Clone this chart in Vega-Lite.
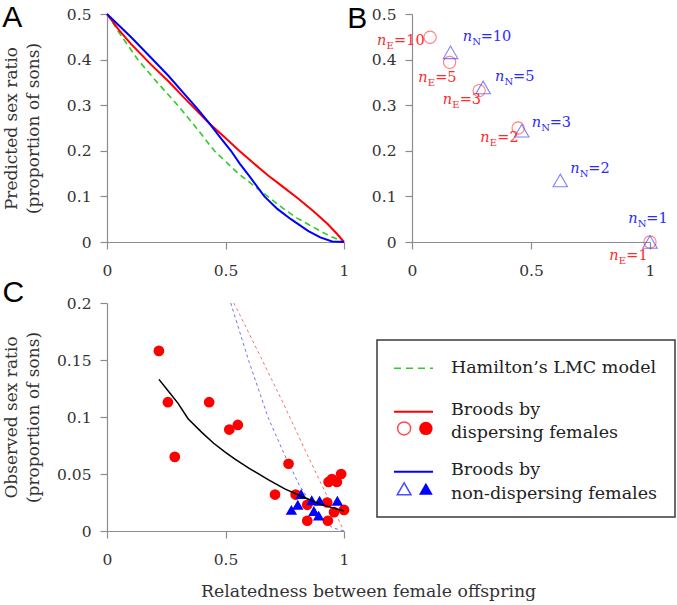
{
  "$schema": "https://vega.github.io/schema/vega-lite/v6.json",
  "background": "white",
  "padding": {"left": 2, "top": 3, "right": 2, "bottom": 4},
  "bounds": "flush",
  "columns": 2,
  "spacing": {"row": 61, "column": 68},
  "title": {"text": "Relatedness between female offspring", "orient": "bottom", "anchor": "start", "frame": "group", "dx": 94, "font": "DejaVu Serif", "fontSize": 17.3, "fontWeight": "normal", "color": "#333", "offset": 15},
  "config": {
    "view": {"stroke": null},
    "axis": {
      "domainColor": "#8c8c8c", "tickColor": "#8c8c8c", "labelColor": "#333", "titleColor": "#333",
      "labelFont": "DejaVu Serif", "labelFontSize": 15.5, "titleFont": "DejaVu Serif", "titleFontSize": 17, "titleFontWeight": "normal",
      "grid": false, "tickSize": 7, "domainWidth": 1.2, "tickWidth": 1.2, "labelFlush": false, "titleLineHeight": 22
    },
    "axisX": {"labelPadding": 14},
    "axisY": {"labelPadding": 9}
  },
  "datasets": {
    "curves": [
      {"series": "Hamilton", "r": 0, "s": 0.5},
      {"series": "Hamilton", "r": 0.05, "s": 0.46},
      {"series": "Hamilton", "r": 0.13, "s": 0.4},
      {"series": "Hamilton", "r": 0.2, "s": 0.357},
      {"series": "Hamilton", "r": 0.298, "s": 0.3},
      {"series": "Hamilton", "r": 0.37, "s": 0.255},
      {"series": "Hamilton", "r": 0.453, "s": 0.2},
      {"series": "Hamilton", "r": 0.55, "s": 0.152},
      {"series": "Hamilton", "r": 0.62, "s": 0.123},
      {"series": "Hamilton", "r": 0.678, "s": 0.1},
      {"series": "Hamilton", "r": 0.74, "s": 0.075},
      {"series": "Hamilton", "r": 0.8, "s": 0.053},
      {"series": "Hamilton", "r": 0.9, "s": 0.024},
      {"series": "Hamilton", "r": 0.95, "s": 0.011},
      {"series": "Hamilton", "r": 1, "s": 0},
      {"series": "Dispersing", "r": 0, "s": 0.5},
      {"series": "Dispersing", "r": 0.05, "s": 0.465},
      {"series": "Dispersing", "r": 0.1, "s": 0.435},
      {"series": "Dispersing", "r": 0.186, "s": 0.389},
      {"series": "Dispersing", "r": 0.26, "s": 0.352},
      {"series": "Dispersing", "r": 0.326, "s": 0.316},
      {"series": "Dispersing", "r": 0.432, "s": 0.26},
      {"series": "Dispersing", "r": 0.5, "s": 0.228},
      {"series": "Dispersing", "r": 0.558, "s": 0.2},
      {"series": "Dispersing", "r": 0.62, "s": 0.172},
      {"series": "Dispersing", "r": 0.68, "s": 0.146},
      {"series": "Dispersing", "r": 0.74, "s": 0.122},
      {"series": "Dispersing", "r": 0.805, "s": 0.096},
      {"series": "Dispersing", "r": 0.87, "s": 0.068},
      {"series": "Dispersing", "r": 0.93, "s": 0.04},
      {"series": "Dispersing", "r": 0.97, "s": 0.018},
      {"series": "Dispersing", "r": 1, "s": 0},
      {"series": "Non-dispersing", "r": 0, "s": 0.5},
      {"series": "Non-dispersing", "r": 0.1, "s": 0.45},
      {"series": "Non-dispersing", "r": 0.186, "s": 0.404},
      {"series": "Non-dispersing", "r": 0.26, "s": 0.364},
      {"series": "Non-dispersing", "r": 0.326, "s": 0.325},
      {"series": "Non-dispersing", "r": 0.38, "s": 0.293},
      {"series": "Non-dispersing", "r": 0.432, "s": 0.26},
      {"series": "Non-dispersing", "r": 0.48, "s": 0.228},
      {"series": "Non-dispersing", "r": 0.523, "s": 0.2},
      {"series": "Non-dispersing", "r": 0.56, "s": 0.172},
      {"series": "Non-dispersing", "r": 0.6, "s": 0.145},
      {"series": "Non-dispersing", "r": 0.664, "s": 0.1},
      {"series": "Non-dispersing", "r": 0.72, "s": 0.072},
      {"series": "Non-dispersing", "r": 0.776, "s": 0.05},
      {"series": "Non-dispersing", "r": 0.85, "s": 0.024},
      {"series": "Non-dispersing", "r": 0.9, "s": 0.01},
      {"series": "Non-dispersing", "r": 0.95, "s": 0.001},
      {"series": "Non-dispersing", "r": 1, "s": 0}
    ],
    "cdash": [
      {"series": "Dispersing", "r": 0.535, "s": 0.2},
      {"series": "Dispersing", "r": 0.556, "s": 0.1915},
      {"series": "Dispersing", "r": 0.65, "s": 0.152},
      {"series": "Dispersing", "r": 0.737, "s": 0.115},
      {"series": "Dispersing", "r": 0.845, "s": 0.067},
      {"series": "Dispersing", "r": 0.93, "s": 0.03},
      {"series": "Dispersing", "r": 1, "s": 0},
      {"series": "Non-dispersing", "r": 0.522, "s": 0.2},
      {"series": "Non-dispersing", "r": 0.6, "s": 0.148},
      {"series": "Non-dispersing", "r": 0.681, "s": 0.099},
      {"series": "Non-dispersing", "r": 0.749, "s": 0.067},
      {"series": "Non-dispersing", "r": 0.812, "s": 0.04},
      {"series": "Non-dispersing", "r": 0.9, "s": 0.012},
      {"series": "Non-dispersing", "r": 0.95, "s": 0.003},
      {"series": "Non-dispersing", "r": 1, "s": 0}
    ],
    "bpts": [
      {"grp": "E", "n": 10, "r": 0.076, "s": 0.449},
      {"grp": "E", "n": 5, "r": 0.158, "s": 0.394},
      {"grp": "E", "n": 3, "r": 0.282, "s": 0.332},
      {"grp": "E", "n": 2, "r": 0.446, "s": 0.25},
      {"grp": "E", "n": 1, "r": 1, "s": 0},
      {"grp": "N", "n": 10, "r": 0.162, "s": 0.416},
      {"grp": "N", "n": 5, "r": 0.299, "s": 0.339},
      {"grp": "N", "n": 3, "r": 0.461, "s": 0.244},
      {"grp": "N", "n": 2, "r": 0.623, "s": 0.135},
      {"grp": "N", "n": 1, "r": 1, "s": 0.0}
    ],
    "blab": [
      {"grp": "E", "lab": "=10", "r": -0.147, "s": 0.44},
      {"grp": "E", "lab": "=5", "r": 0.026, "s": 0.36},
      {"grp": "E", "lab": "=3", "r": 0.129, "s": 0.311},
      {"grp": "E", "lab": "=2", "r": 0.287, "s": 0.229},
      {"grp": "E", "lab": "=1", "r": 0.829, "s": -0.031},
      {"grp": "N", "lab": "=10", "r": 0.213, "s": 0.449},
      {"grp": "N", "lab": "=5", "r": 0.349, "s": 0.361},
      {"grp": "N", "lab": "=3", "r": 0.503, "s": 0.262},
      {"grp": "N", "lab": "=2", "r": 0.665, "s": 0.16},
      {"grp": "N", "lab": "=1", "r": 0.909, "s": 0.05}
    ],
    "obs": [
      {"grp": "E", "r": 0.219, "s": 0.158},
      {"grp": "E", "r": 0.257, "s": 0.113},
      {"grp": "E", "r": 0.286, "s": 0.065},
      {"grp": "E", "r": 0.431, "s": 0.113},
      {"grp": "E", "r": 0.516, "s": 0.089},
      {"grp": "E", "r": 0.552, "s": 0.093},
      {"grp": "E", "r": 0.766, "s": 0.059},
      {"grp": "E", "r": 0.709, "s": 0.032},
      {"grp": "E", "r": 0.796, "s": 0.032},
      {"grp": "E", "r": 0.845, "s": 0.023},
      {"grp": "E", "r": 0.845, "s": 0.009},
      {"grp": "E", "r": 0.929, "s": 0.025},
      {"grp": "E", "r": 0.932, "s": 0.009},
      {"grp": "E", "r": 0.935, "s": 0.043},
      {"grp": "E", "r": 0.949, "s": 0.0455},
      {"grp": "E", "r": 0.97, "s": 0.043},
      {"grp": "E", "r": 0.988, "s": 0.05},
      {"grp": "E", "r": 0.958, "s": 0.0165},
      {"grp": "E", "r": 1.0, "s": 0.0185},
      {"grp": "N", "r": 0.778, "s": 0.0185},
      {"grp": "N", "r": 0.819, "s": 0.0325},
      {"grp": "N", "r": 0.805, "s": 0.023},
      {"grp": "N", "r": 0.864, "s": 0.027},
      {"grp": "N", "r": 0.873, "s": 0.0175},
      {"grp": "N", "r": 0.893, "s": 0.0135},
      {"grp": "N", "r": 0.897, "s": 0.0265},
      {"grp": "N", "r": 0.972, "s": 0.0265}
    ],
    "fit": [
      {"r": 0.219, "s": 0.133},
      {"r": 0.25, "s": 0.125},
      {"r": 0.3, "s": 0.112},
      {"r": 0.342, "s": 0.0985},
      {"r": 0.4, "s": 0.0865},
      {"r": 0.45, "s": 0.077},
      {"r": 0.5, "s": 0.069},
      {"r": 0.54, "s": 0.063},
      {"r": 0.6, "s": 0.055},
      {"r": 0.68, "s": 0.045},
      {"r": 0.75, "s": 0.037},
      {"r": 0.82, "s": 0.0305},
      {"r": 0.9, "s": 0.0235},
      {"r": 0.95, "s": 0.0205},
      {"r": 1.0, "s": 0.0176}
    ],
    "legLines": [
      {"item": "H", "x": 0.057, "x2": 0.188, "y": 0.714},
      {"item": "E", "x": 0.057, "x2": 0.188, "y": 0.523},
      {"item": "N", "x": 0.057, "x2": 0.188, "y": 0.26}
    ],
    "legSyms": [
      {"item": "E", "fill": "open", "x": 0.091, "y": 0.45},
      {"item": "E", "fill": "solid", "x": 0.164, "y": 0.45},
      {"item": "N", "fill": "open", "x": 0.091, "y": 0.185},
      {"item": "N", "fill": "solid", "x": 0.164, "y": 0.185}
    ],
    "legText": [
      {"x": 0.248, "y": 0.714, "text": "Hamilton’s LMC model"},
      {"x": 0.248, "y": 0.531, "text": "Broods by"},
      {"x": 0.248, "y": 0.43, "text": "dispersing females"},
      {"x": 0.248, "y": 0.268, "text": "Broods by"},
      {"x": 0.248, "y": 0.162, "text": "non-dispersing females"}
    ]
  },
  "concat": [
    {
      "width": 237, "height": 228,
      "title": {"text": "A", "anchor": "start", "frame": "bounds", "font": "Liberation Sans", "fontSize": 30, "fontWeight": "normal", "color": "#000", "offset": -26},
      "data": {"name": "curves"},
      "encoding": {
        "x": {"field": "r", "type": "quantitative", "scale": {"domain": [0, 1], "nice": false, "zero": false}, "axis": {"values": [0, 0.5, 1], "format": "~g", "title": null}},
        "y": {"field": "s", "type": "quantitative", "scale": {"domain": [0, 0.5], "nice": false}, "axis": {"values": [0, 0.1, 0.2, 0.3, 0.4, 0.5], "format": "~g", "title": ["Predicted sex ratio", "(proportion of sons)"], "titlePadding": 24}}
      },
      "layer": [
        {"transform": [{"filter": "datum.series === 'Hamilton'"}], "mark": {"type": "line", "color": "#2ccc2c", "strokeWidth": 1.6, "strokeDash": [6, 4]}},
        {"transform": [{"filter": "datum.series === 'Dispersing'"}], "mark": {"type": "line", "color": "#ff0000", "strokeWidth": 2}},
        {"transform": [{"filter": "datum.series === 'Non-dispersing'"}], "mark": {"type": "line", "color": "#0000ff", "strokeWidth": 2}}
      ]
    },
    {
      "width": 238, "height": 228,
      "title": {"text": "B", "anchor": "start", "frame": "bounds", "font": "Liberation Sans", "fontSize": 30, "fontWeight": "normal", "color": "#000", "offset": -27, "dx": -24},
      "encoding": {
        "x": {"field": "r", "type": "quantitative", "scale": {"domain": [0, 1], "nice": false, "zero": false}, "axis": {"values": [0, 0.5, 1], "format": "~g", "title": null}},
        "y": {"field": "s", "type": "quantitative", "scale": {"domain": [0, 0.5], "nice": false}, "axis": {"values": [0, 0.1, 0.2, 0.3, 0.4, 0.5], "format": "~g", "title": null}}
      },
      "layer": [
        {"data": {"name": "bpts"}, "transform": [{"filter": "datum.grp === 'E'"}], "mark": {"type": "point", "shape": "circle", "filled": false, "size": 150, "strokeWidth": 1.1, "color": "#ff4a4a"}},
        {"data": {"name": "bpts"}, "transform": [{"filter": "datum.grp === 'N'"}], "mark": {"type": "point", "shape": "triangle-up", "filled": false, "size": 210, "strokeWidth": 1.1, "color": "#4a4aff"}},
        {"data": {"name": "blab"}, "mark": {"type": "text", "text": "n", "font": "DejaVu Serif", "fontStyle": "italic", "fontSize": 14.5, "align": "left", "baseline": "middle"},
          "encoding": {"color": {"field": "grp", "type": "nominal", "scale": {"domain": ["E", "N"], "range": ["#ff2a2a", "#2a2aff"]}, "legend": null}}},
        {"data": {"name": "blab"}, "mark": {"type": "text", "font": "DejaVu Serif", "fontSize": 10, "align": "left", "baseline": "middle", "dx": 9.5, "dy": 5},
          "encoding": {"text": {"field": "grp"}, "color": {"field": "grp", "type": "nominal", "scale": {"domain": ["E", "N"], "range": ["#ff2a2a", "#2a2aff"]}, "legend": null}}},
        {"data": {"name": "blab"}, "transform": [{"filter": "datum.grp === 'E'"}], "mark": {"type": "text", "font": "DejaVu Serif", "fontSize": 14.5, "align": "left", "baseline": "middle", "dx": 17, "color": "#ff2a2a"},
          "encoding": {"text": {"field": "lab"}}},
        {"data": {"name": "blab"}, "transform": [{"filter": "datum.grp === 'N'"}], "mark": {"type": "text", "font": "DejaVu Serif", "fontSize": 14.5, "align": "left", "baseline": "middle", "dx": 18, "color": "#2a2aff"},
          "encoding": {"text": {"field": "lab"}}}
      ]
    },
    {
      "width": 237, "height": 228,
      "title": {"text": "C", "anchor": "start", "frame": "bounds", "font": "Liberation Sans", "fontSize": 30, "fontWeight": "normal", "color": "#000", "offset": -12},
      "encoding": {
        "x": {"field": "r", "type": "quantitative", "scale": {"domain": [0, 1], "nice": false, "zero": false}, "axis": {"values": [0, 0.5, 1], "format": "~g", "title": null}},
        "y": {"field": "s", "type": "quantitative", "scale": {"domain": [0, 0.2], "nice": false}, "axis": {"values": [0, 0.05, 0.1, 0.15, 0.2], "format": "~g", "title": ["Observed sex ratio", "(proportion of sons)"], "titlePadding": 14}}
      },
      "layer": [
        {"data": {"name": "cdash"}, "transform": [{"filter": "datum.series === 'Dispersing'"}], "mark": {"type": "line", "clip": true, "color": "#ff7070", "strokeWidth": 1, "strokeDash": [3, 3]}},
        {"data": {"name": "cdash"}, "transform": [{"filter": "datum.series === 'Non-dispersing'"}], "mark": {"type": "line", "clip": true, "color": "#7070ff", "strokeWidth": 1, "strokeDash": [3, 3]}},
        {"data": {"name": "obs"}, "transform": [{"filter": "datum.grp === 'E'"}], "mark": {"type": "point", "shape": "circle", "filled": true, "size": 115, "opacity": 1, "color": "#ff0000"}},
        {"data": {"name": "obs"}, "transform": [{"filter": "datum.grp === 'N'"}], "mark": {"type": "point", "shape": "triangle-up", "filled": true, "size": 130, "opacity": 1, "color": "#0000ff"}},
        {"data": {"name": "fit"}, "mark": {"type": "line", "color": "#000000", "strokeWidth": 1.5}}
      ]
    },
    {
      "width": 263, "height": 228,
      "layer": [
        {"data": {"values": [{"box": "frame"}]}, "mark": {"type": "rect", "filled": false, "color": "#3a3a3a", "strokeWidth": 1.5},
          "encoding": {
            "x": {"datum": 0, "type": "quantitative", "scale": {"domain": [0, 1], "range": [-35, 263], "nice": false}, "axis": null},
            "x2": {"datum": 1},
            "y": {"datum": 0.061, "type": "quantitative", "scale": {"domain": [0, 1], "nice": false}, "axis": null},
            "y2": {"datum": 0.838}
          }},
        {"data": {"name": "legLines"}, "transform": [{"filter": "datum.item === 'H'"}], "mark": {"type": "rule", "color": "#2ccc2c", "strokeWidth": 1.6, "strokeDash": [7, 5]},
          "encoding": {"x": {"field": "x", "type": "quantitative", "scale": {"domain": [0, 1], "range": [-35, 263], "nice": false}, "axis": null}, "x2": {"field": "x2"}, "y": {"field": "y", "type": "quantitative", "scale": {"domain": [0, 1], "nice": false}, "axis": null}}},
        {"data": {"name": "legLines"}, "transform": [{"filter": "datum.item === 'E'"}], "mark": {"type": "rule", "color": "#ff0000", "strokeWidth": 2},
          "encoding": {"x": {"field": "x", "type": "quantitative", "scale": {"domain": [0, 1], "range": [-35, 263], "nice": false}, "axis": null}, "x2": {"field": "x2"}, "y": {"field": "y", "type": "quantitative", "scale": {"domain": [0, 1], "nice": false}, "axis": null}}},
        {"data": {"name": "legLines"}, "transform": [{"filter": "datum.item === 'N'"}], "mark": {"type": "rule", "color": "#0000ff", "strokeWidth": 2},
          "encoding": {"x": {"field": "x", "type": "quantitative", "scale": {"domain": [0, 1], "range": [-35, 263], "nice": false}, "axis": null}, "x2": {"field": "x2"}, "y": {"field": "y", "type": "quantitative", "scale": {"domain": [0, 1], "nice": false}, "axis": null}}},
        {"data": {"name": "legSyms"}, "transform": [{"filter": "datum.item === 'E' && datum.fill === 'open'"}], "mark": {"type": "point", "shape": "circle", "filled": false, "size": 170, "strokeWidth": 1.5, "color": "#ff0000"},
          "encoding": {"x": {"field": "x", "type": "quantitative", "scale": {"domain": [0, 1], "range": [-35, 263], "nice": false}, "axis": null}, "y": {"field": "y", "type": "quantitative", "scale": {"domain": [0, 1], "nice": false}, "axis": null}}},
        {"data": {"name": "legSyms"}, "transform": [{"filter": "datum.item === 'E' && datum.fill === 'solid'"}], "mark": {"type": "point", "shape": "circle", "filled": true, "size": 180, "opacity": 1, "color": "#ff0000"},
          "encoding": {"x": {"field": "x", "type": "quantitative", "scale": {"domain": [0, 1], "range": [-35, 263], "nice": false}, "axis": null}, "y": {"field": "y", "type": "quantitative", "scale": {"domain": [0, 1], "nice": false}, "axis": null}}},
        {"data": {"name": "legSyms"}, "transform": [{"filter": "datum.item === 'N' && datum.fill === 'open'"}], "mark": {"type": "point", "shape": "triangle-up", "filled": false, "size": 190, "strokeWidth": 1.5, "color": "#0000ff"},
          "encoding": {"x": {"field": "x", "type": "quantitative", "scale": {"domain": [0, 1], "range": [-35, 263], "nice": false}, "axis": null}, "y": {"field": "y", "type": "quantitative", "scale": {"domain": [0, 1], "nice": false}, "axis": null}}},
        {"data": {"name": "legSyms"}, "transform": [{"filter": "datum.item === 'N' && datum.fill === 'solid'"}], "mark": {"type": "point", "shape": "triangle-up", "filled": true, "size": 190, "opacity": 1, "color": "#0000ff"},
          "encoding": {"x": {"field": "x", "type": "quantitative", "scale": {"domain": [0, 1], "range": [-35, 263], "nice": false}, "axis": null}, "y": {"field": "y", "type": "quantitative", "scale": {"domain": [0, 1], "nice": false}, "axis": null}}},
        {"data": {"name": "legText"}, "mark": {"type": "text", "align": "left", "baseline": "middle", "font": "DejaVu Serif", "fontSize": 17.5, "color": "#222"},
          "encoding": {"x": {"field": "x", "type": "quantitative", "scale": {"domain": [0, 1], "range": [-35, 263], "nice": false}, "axis": null}, "y": {"field": "y", "type": "quantitative", "scale": {"domain": [0, 1], "nice": false}, "axis": null}, "text": {"field": "text"}}}
      ]
    }
  ]
}
